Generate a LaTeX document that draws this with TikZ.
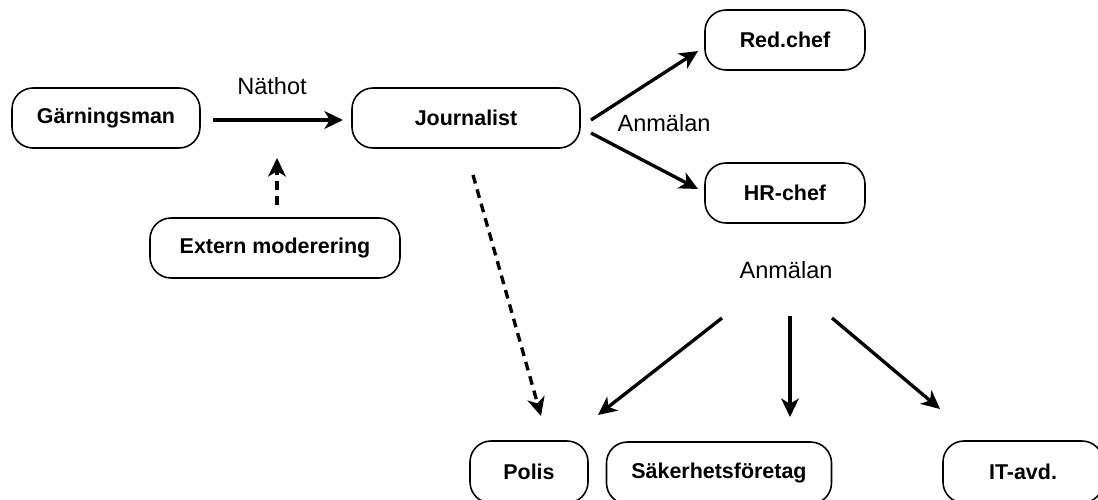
\documentclass[tikz,border=0pt]{standalone}
\usepackage{fontspec}
\setmainfont{Liberation Sans}
\usetikzlibrary{arrows.meta}
\tikzset{
  box/.style={draw=black, line width=0.9pt, rounded corners=0.42cm, inner sep=0pt, font=\bfseries\fontsize{12.2}{14}\selectfont},
  lbl/.style={font=\fontsize{13.4}{15}\selectfont, inner sep=0pt},
  conn/.style={line width=1.9pt, -{Stealth[length=10.5pt, width=10pt, inset=3pt]}},
  dconn/.style={conn, dash pattern=on 5pt off 3.5pt}
}
\begin{document}
\begin{tikzpicture}[x=0.02cm, y=-0.02cm]
\useasboundingbox (0,0) rectangle (1098,500);
\clip (0,0) rectangle (1098,500);
% nodes
\node[box, minimum width=188*0.02cm, minimum height=60*0.02cm] (garn) at (106,118) {Gärningsman};
\node[box, minimum width=228*0.02cm, minimum height=60*0.02cm] (journ) at (466,118) {Journalist};
\node[box, minimum width=250*0.02cm, minimum height=60*0.02cm] (extern) at (275,248) {Extern moderering};
\node[box, minimum width=160*0.02cm, minimum height=60*0.02cm] (red) at (785,40) {Red.chef};
\node[box, minimum width=160*0.02cm, minimum height=60*0.02cm] (hr) at (785,193) {HR-chef};
\node[box, minimum width=118*0.02cm, minimum height=62*0.02cm] (polis) at (529,472) {Polis};
\node[box, minimum width=225*0.02cm, minimum height=62*0.02cm] (sak) at (719,473) {Säkerhetsföretag};
\node[box, minimum width=160*0.02cm, minimum height=62*0.02cm] (it) at (1023,472) {IT-avd.};
% labels
\node[lbl] (nathot) at (272,86) {Näthot};
\node[lbl] (anm1) at (664,123) {Anmälan};
\node[lbl] (anm2) at (786,270) {Anmälan};
% free ends
\coordinate (a1s) at (213,120);
\coordinate (a1e) at (343,120);
\coordinate (a2s) at (277,205);
\coordinate (a2e) at (277,158);
\coordinate (a3s) at (591,120);
\coordinate (a3e) at (698,51);
\coordinate (a4s) at (591,133);
\coordinate (a4e) at (698,189);
\coordinate (a5s) at (473,175);
\coordinate (a5e) at (541,416);
\coordinate (a6s) at (722,318);
\coordinate (a6e) at (598,415);
\coordinate (a7s) at (790,316);
\coordinate (a7e) at (790,417);
\coordinate (a8s) at (832,318);
\coordinate (a8e) at (940,409);
% connectors
\draw[conn] (a1s) -- (a1e);
\draw[dconn] (a2s) -- (a2e);
\draw[conn] (a3s) -- (a3e);
\draw[conn] (a4s) -- (a4e);
\draw[dconn] (a5s) -- (a5e);
\draw[conn] (a6s) -- (a6e);
\draw[conn] (a7s) -- (a7e);
\draw[conn] (a8s) -- (a8e);
\end{tikzpicture}
\end{document}
